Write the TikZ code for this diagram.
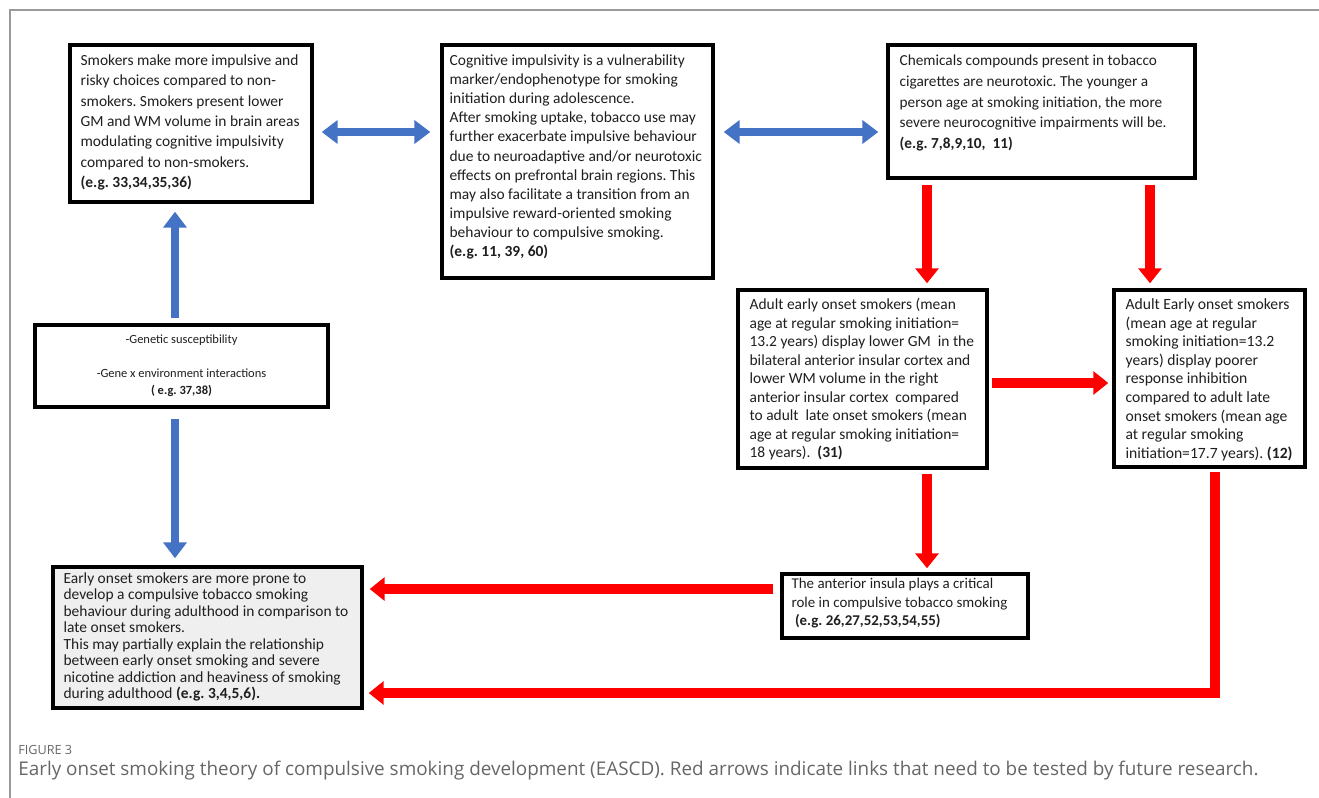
\documentclass[tikz,border=0pt]{standalone}
\usepackage{fontspec}
\setmainfont{Carlito}
\newfontfamily\capfont{Open Sans}
\usetikzlibrary{positioning, arrows.meta, calc}
\definecolor{linkblue}{HTML}{4472C4}
\definecolor{linkred}{HTML}{FF0000}
\definecolor{boxgray}{HTML}{EFEFEF}
\definecolor{framegray}{HTML}{9A9A9A}
\definecolor{captiongray}{HTML}{666666}
\frenchspacing

\begin{document}
\begin{tikzpicture}[
    x=0.02cm, y=-0.02cm,
    box/.style={
        draw=black, line width=2pt, fill=white, inner sep=0pt,
    },
    detail/.style={
        anchor=north west, align=left, inner sep=0pt, text=black!88,
    },
    bluelink/.style={
        draw=linkblue, line width=4.5pt,
        -{Triangle[length=9pt, width=13pt]},
    },
    blueboth/.style={
        draw=linkblue, line width=4.5pt,
        {Triangle[length=9pt, width=13pt]}-{Triangle[length=9pt, width=13pt]},
    },
    redlink/.style={
        draw=linkred, line width=5.3pt,
        -{Triangle[length=8.5pt, width=13pt]},
    },
]
\useasboundingbox (0,0) rectangle (1319,798);

% Frame
\draw[framegray, line width=0.8pt] (1319,10) -- (10,10) -- (10,798);

% Boxes
\node[box, minimum width=4.84cm, minimum height=3.14cm] (smk) at (191,123.5) {};
\node[box, minimum width=5.42cm, minimum height=4.66cm] (cog) at (577.5,161.5) {};
\node[box, minimum width=6.14cm, minimum height=2.66cm] (chem) at (1041.5,111.5) {};
\node[box, minimum width=4.98cm, minimum height=3.56cm] (aeo) at (862.5,379) {};
\node[box, minimum width=3.82cm, minimum height=3.54cm] (aes) at (1209.5,378.5) {};
\node[box, minimum width=5.86cm, minimum height=1.64cm] (gen) at (181.5,366) {};
\node[box, fill=boxgray, minimum width=6.18cm, minimum height=2.82cm] (eos) at (207.5,637.5) {};
\node[box, minimum width=4.92cm, minimum height=1.28cm] (ins) at (905,606) {};

% Box texts
\node[detail, font=\fontsize{8.8}{11.6}\selectfont] (smktext) at ($(smk.north west)+(12,11)$) {%
    Smokers make more impulsive and\\
    risky choices compared to non-\\
    smokers. Smokers present lower\\
    GM and WM volume in brain areas\\
    modulating cognitive impulsivity\\
    compared to non-smokers.\\
    \textbf{(e.g. 33,34,35,36)}
};
\node[detail, font=\fontsize{8.8}{10.9}\selectfont] (cogtext) at ($(cog.north west)+(9,11)$) {%
    Cognitive impulsivity is a vulnerability\\
    marker/endophenotype for smoking\\
    initiation during adolescence.\\
    After smoking uptake, tobacco use may\\
    further exacerbate impulsive behaviour\\
    due to neuroadaptive and/or neurotoxic\\
    effects on prefrontal brain regions. This\\
    may also facilitate a transition from an\\
    impulsive reward-oriented smoking\\
    behaviour to compulsive smoking.\\
    \textbf{(e.g. 11, 39, 60)}
};
\node[detail, font=\fontsize{8.7}{11.9}\selectfont] (chemtext) at ($(chem.north west)+(13,11)$) {%
    Chemicals compounds present in tobacco\\
    cigarettes are neurotoxic. The younger a\\
    person age at smoking initiation, the more\\
    severe neurocognitive impairments will be.\\
    \textbf{(e.g. 7,8,9,10,\ \ 11)}
};
\node[detail, font=\fontsize{8.8}{10.5}\selectfont] (aeotext) at ($(aeo.north west)+(13,10)$) {%
    Adult early onset smokers (mean\\
    age at regular smoking initiation=\\
    13.2 years) display lower GM\ \ in the\\
    bilateral anterior insular cortex and\\
    lower WM volume in the right\\
    anterior insular cortex\ \ compared\\
    to adult\ \ late onset smokers (mean\\
    age at regular smoking initiation=\\
    18 years).\ \ \textbf{(31)}
};
\node[detail, font=\fontsize{8.9}{10.6}\selectfont] (aestext) at ($(aes.north west)+(13,10)$) {%
    Adult Early onset smokers\\
    (mean age at regular\\
    smoking initiation=13.2\\
    years) display poorer\\
    response inhibition\\
    compared to adult late\\
    onset smokers (mean age\\
    at regular smoking\\
    initiation=17.7 years). \textbf{(12)}
};
\node[align=center, inner sep=0pt, text=black!88, font=\fontsize{7.1}{9.6}\selectfont] (gentext) at (gen.center) {%
    -Genetic susceptibility\\[9.6pt]
    -Gene x environment interactions\\
    \textbf{( e.g. 37,38)}
};
\node[detail, font=\fontsize{8.8}{9.4}\selectfont] (eostext) at ($(eos.north west)+(12,7)$) {%
    Early onset smokers are more prone to\\
    develop a compulsive tobacco smoking\\
    behaviour during adulthood in comparison to\\
    late onset smokers.\\
    This may partially explain the relationship\\
    between early onset smoking and severe\\
    nicotine addiction and heaviness of smoking\\
    during adulthood \textbf{(e.g. 3,4,5,6).}
};
\node[detail, font=\fontsize{8.5}{10.4}\selectfont] (instext) at ($(ins.north west)+(11,6)$) {%
    The anterior insula plays a critical\\
    role in compulsive tobacco smoking\\
    \ \textbf{(e.g. 26,27,52,53,54,55)}
};

% Helper rows and columns
\coordinate (toprow) at (0,132);
\coordinate (leftcol) at (175,0);
\coordinate (redcol) at (927,0);
\coordinate (redcol2) at (1150,0);
\coordinate (midrow) at (0,383);
\coordinate (insrow) at (0,589);
\coordinate (elbow) at (1215,693);

% Blue arrows
\draw[blueboth, shorten <=0.16cm, shorten >=0.2cm] (smk.east |- toprow) -- (cog.west |- toprow);
\draw[blueboth, shorten <=0.18cm, shorten >=0.16cm] (cog.east |- toprow) -- (chem.west |- toprow);
\draw[bluelink, shorten <=0.1cm, shorten >=0.16cm] (gen.north -| leftcol) -- (smk.south -| leftcol);
\draw[bluelink, shorten <=0.2cm, shorten >=0.14cm] (gen.south -| leftcol) -- (eos.north -| leftcol);

% Red arrows
\draw[redlink, shorten <=0.1cm, shorten >=0.1cm] (chem.south -| redcol) -- (aeo.north -| redcol);
\draw[redlink, shorten <=0.1cm, shorten >=0.1cm] (chem.south -| redcol2) -- (aes.north -| redcol2);
\draw[redlink, shorten <=0.06cm, shorten >=0.08cm] (aeo.east |- midrow) -- (aes.west |- midrow);
\draw[redlink, shorten <=0.08cm, shorten >=0.08cm] (aeo.south -| redcol) -- (ins.north -| redcol);
\draw[redlink, shorten <=0.14cm, shorten >=0.12cm] (ins.west |- insrow) -- (eos.east |- insrow);
\draw[redlink, shorten <=0.06cm, shorten >=0.1cm] (aes.south -| elbow) -- (elbow) -- (eos.east |- elbow);

% Caption
\node[anchor=west, inner sep=0pt, text=captiongray, font=\capfont\fontsize{7.2}{8}\selectfont] (figlabel) at (18,750) {FIGURE 3};
\node[anchor=west, inner sep=0pt, text=captiongray, font=\capfont\fontsize{10.75}{12}\selectfont] (caption) at (18,771)
    {Early onset smoking theory of compulsive smoking development (EASCD). Red arrows indicate links that need to be tested by future research.};

\end{tikzpicture}
\end{document}
